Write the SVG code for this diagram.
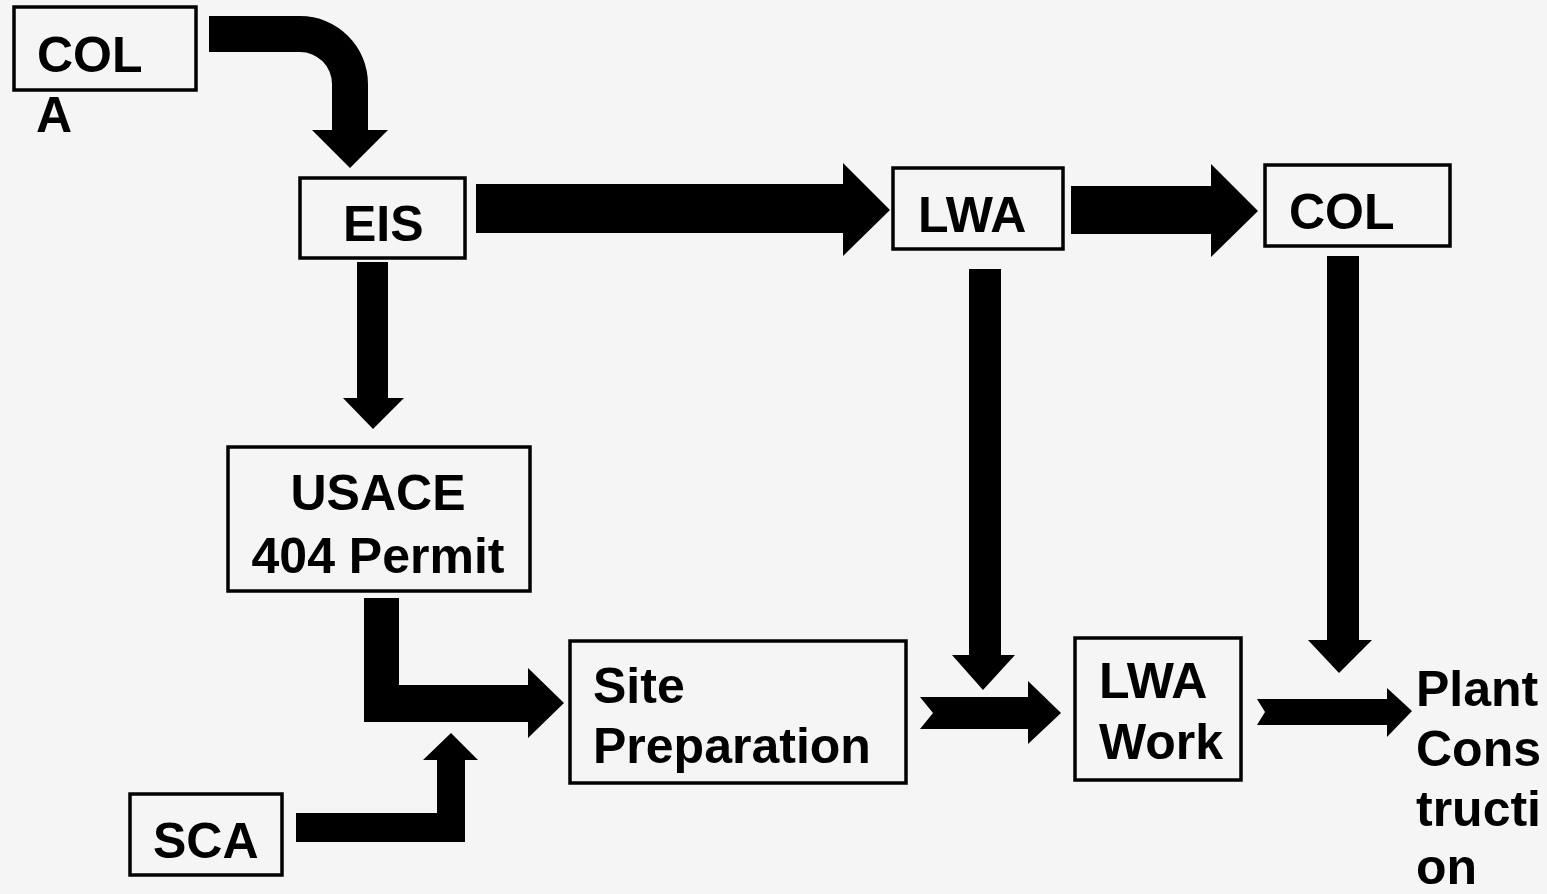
<svg xmlns="http://www.w3.org/2000/svg" width="1547" height="894" viewBox="0 0 1547 894">
<style>
.box{fill:none;stroke:#000;stroke-width:3.5}
.t{font-family:"Liberation Sans",Arial,sans-serif;font-weight:bold;font-size:50px;fill:#000}
.arr{fill:#000}
</style>
<rect width="1547" height="894" fill="#f5f5f5"/>
<g id="connectors">
<path class="arr" d="M209,16 H300 A68,68 0 0 1 368,84 V130 H388 L350,168 L312,130 H332 V84 A32,32 0 0 0 300,52 H209 Z"/>
<path class="arr" d="M357,262 H388 V398 H404 L373,429 L343,398 H357 Z"/>
<path class="arr" d="M476,184 H843 V163 L890,210 L843,256 V233 H476 Z"/>
<path class="arr" d="M1071,186 H1211 V164 L1258,211 L1211,257 V234 H1071 Z"/>
<path class="arr" d="M969,269 H1001 V655 H1015 L983,690 L952,655 H969 Z"/>
<path class="arr" d="M1327,256 H1359 V640 H1372 L1339,673 L1308,640 H1327 Z"/>
<path class="arr" d="M364,598 H399 V685 H528 V668 L564,703 L528,738 V722 H364 Z"/>
<path class="arr" d="M296,813 H437 V760 H423 L451,733 L478,760 H465 V842 H296 Z"/>
<path class="arr" d="M920,697 H1028 V681 L1061,713 L1028,744 V729 H920 L933,713 Z"/>
<path class="arr" d="M1257,699 H1387 V688 L1412,711 L1387,737 V725 H1257 L1265,712 Z"/>
</g>
<g id="cola">
<rect class="box" x="14" y="7" width="182" height="83"/>
<text class="t" x="37" y="72">COL</text>
<text class="t" x="36" y="132">A</text>
</g>
<g id="eis">
<rect class="box" x="300" y="178" width="165" height="80"/>
<text class="t" x="343" y="241">EIS</text>
</g>
<g id="usace">
<rect class="box" x="228" y="447" width="302" height="144"/>
<text class="t" x="378" y="510" text-anchor="middle">USACE</text>
<text class="t" x="378" y="573" text-anchor="middle">404 Permit</text>
</g>
<g id="lwa">
<rect class="box" x="893" y="168" width="170" height="81"/>
<text class="t" x="918" y="232">LWA</text>
</g>
<g id="col">
<rect class="box" x="1265" y="165" width="185" height="81"/>
<text class="t" x="1289" y="229">COL</text>
</g>
<g id="siteprep">
<rect class="box" x="570" y="641" width="336" height="142"/>
<text class="t" x="593" y="703">Site</text>
<text class="t" x="593" y="763">Preparation</text>
</g>
<g id="lwawork">
<rect class="box" x="1075" y="638" width="166" height="142"/>
<text class="t" x="1099" y="698">LWA</text>
<text class="t" x="1099" y="759">Work</text>
</g>
<g id="sca">
<rect class="box" x="130" y="794" width="152" height="81"/>
<text class="t" x="153" y="858">SCA</text>
</g>
<g id="plant">
<text class="t" x="1416" y="706">Plant</text>
<text class="t" x="1416" y="766">Cons</text>
<text class="t" x="1416" y="826">tructi</text>
<text class="t" x="1416" y="884">on</text>
</g>
</svg>
